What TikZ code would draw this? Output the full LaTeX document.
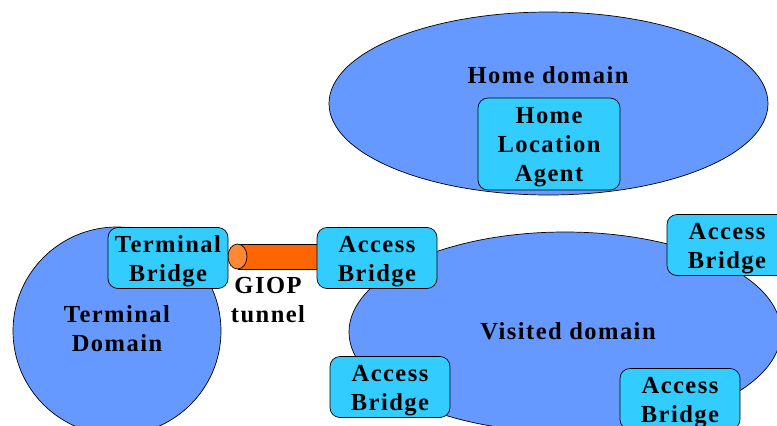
\documentclass[tikz,border=0pt]{standalone}
\usepackage{fontspec}
\setmainfont{Liberation Serif}
\usetikzlibrary{shapes.geometric}
\definecolor{domainblue}{RGB}{102,153,255}
\definecolor{bridgecyan}{RGB}{51,204,255}
\definecolor{tunnelbody}{RGB}{255,102,0}
\definecolor{tunnelcap}{RGB}{255,136,51}
\tikzset{
	domainshape/.style={draw, fill=domainblue, line width=0.7pt, inner sep=0pt},
	bridge/.style={draw, fill=bridgecyan, line width=0.7pt, rounded corners=10pt, minimum width=120pt, minimum height=61pt, inner sep=0pt},
	txt/.style={font=\fontsize{24.5}{29}\selectfont\bfseries\addfontfeatures{LetterSpace=6}, align=center},
	intxt/.style={txt, yshift=-3.5pt}
}
\begin{document}
\begin{tikzpicture}[x=1pt, y=-1pt]
		\useasboundingbox (0,0) rectangle (777,426);

		% Home domain
		\node[domainshape, ellipse, minimum width=439pt, minimum height=183pt] (home) at (548.5,103.5) {};
		\node[txt] (homelabel) at (548,75) {Home domain};
		\node[bridge, minimum width=142pt, minimum height=92pt, label={[intxt]center:Home\\Location\\Agent}] (hla) at (549,144) {};

		% Terminal domain
		\node[domainshape, circle, minimum size=208pt] (term) at (117,331) {};
		\node[txt] (termlabel) at (117,329) {Terminal\\Domain};

		% Visited domain
		\node[domainshape, ellipse, minimum width=432pt, minimum height=200pt] (visited) at (565,332) {};
		\node[txt] (visitedlabel) at (568,331) {Visited domain};

		% GIOP tunnel
		\fill[tunnelbody] (237.5,244) rectangle (322,269);
		\draw[line width=0.7pt] (237.5,244) -- (322,244);
		\draw[line width=0.7pt] (237.5,269) -- (322,269);
		\draw[line width=0.7pt, fill=tunnelcap] (237.5,256.5) ellipse [x radius=9.5pt, y radius=12.5pt];
		\node[txt] (tunnellabel) at (268,300) {GIOP\\tunnel};

		% Bridges
		\node[bridge, label={[intxt]center:Terminal\\Bridge}] (tbridge) at (168,258) {};
		\node[bridge, label={[intxt]center:Access\\Bridge}] (abridge1) at (377,258) {};
		\node[bridge, label={[intxt]center:Access\\Bridge}] (abridge2) at (727,245) {};
		\node[bridge, label={[intxt]center:Access\\Bridge}] (abridge3) at (390,387) {};
		\node[bridge, label={[intxt]center:Access\\Bridge}] (abridge4) at (680,399) {};
	\end{tikzpicture}
\end{document}
